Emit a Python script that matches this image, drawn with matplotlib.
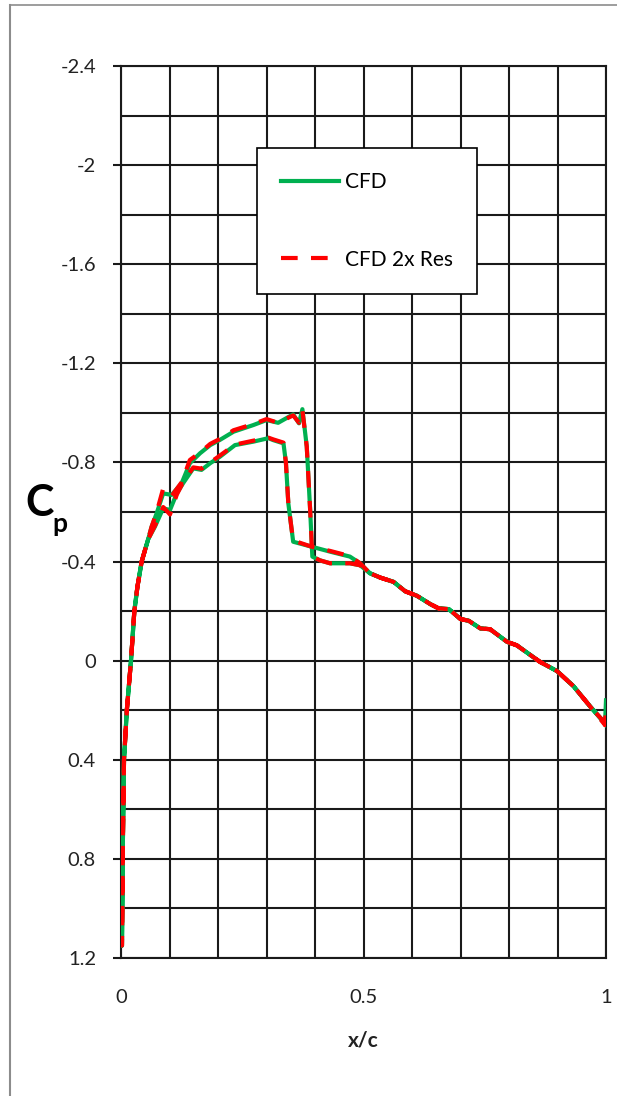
import numpy as np
import matplotlib.pyplot as plt
from matplotlib.lines import Line2D
from matplotlib.ticker import MultipleLocator, FixedLocator

plt.rcParams['font.family'] = ['Lato', 'DejaVu Sans']

# surface 1: trailing edge -> leading edge (shock near x/c = 0.39)
x_s1 = [1.0, 0.995, 0.967, 0.933, 0.899, 0.864, 0.816, 0.796, 0.761, 0.741, 0.717, 0.70,
        0.676, 0.655, 0.638, 0.61, 0.586, 0.562, 0.535, 0.513, 0.493, 0.472, 0.431, 0.41,
        0.3945, 0.39, 0.383, 0.374, 0.367, 0.355, 0.324, 0.30, 0.273, 0.232, 0.204, 0.184,
        0.163, 0.142, 0.125, 0.1045, 0.087, 0.0736, 0.063, 0.056, 0.0426, 0.034, 0.0275,
        0.0206, 0.012, 0.0062, 0.0048, 0.0034, 0.0027, 0.002]
cp_s1_cfd = [0.26, 0.245, 0.184, 0.103, 0.042, 0.005, -0.062, -0.076, -0.127, -0.13, -0.161, -0.168,
             -0.208, -0.211, -0.228, -0.262, -0.28, -0.318, -0.335, -0.353, -0.385, -0.393, -0.393, -0.405,
             -0.42, -0.608, -0.864, -1.015, -0.958, -0.994, -0.96, -0.971, -0.951, -0.924, -0.891, -0.87,
             -0.837, -0.797, -0.716, -0.669, -0.675, -0.595, -0.54, -0.49, -0.4, -0.3, -0.2,
             0.0, 0.2, 0.4, 0.6, 0.8, 1.0, 1.15]
cp_s1_2x = [0.265, 0.245, 0.184, 0.103, 0.042, 0.005, -0.062, -0.076, -0.127, -0.13, -0.161, -0.168,
            -0.208, -0.211, -0.228, -0.262, -0.28, -0.318, -0.335, -0.353, -0.385, -0.393, -0.393, -0.405,
            -0.42, -0.608, -0.864, -1.01, -0.96, -0.99, -0.96, -0.975, -0.955, -0.93, -0.895, -0.875,
            -0.84, -0.81, -0.72, -0.665, -0.695, -0.6, -0.54, -0.49, -0.4, -0.3, -0.2,
            0.0, 0.2, 0.4, 0.6, 0.8, 1.0, 1.15]

# surface 2: leading edge -> trailing edge (shock near x/c = 0.35)
x_s2 = [0.002, 0.0027, 0.0034, 0.0048, 0.0062, 0.012, 0.0206, 0.0275, 0.034, 0.0426, 0.056,
        0.070, 0.087, 0.101, 0.115, 0.128, 0.149, 0.166, 0.184, 0.204, 0.235, 0.273, 0.304,
        0.314, 0.335, 0.34, 0.345, 0.352, 0.355, 0.393, 0.431, 0.472, 0.493, 0.513, 0.535,
        0.562, 0.586, 0.61, 0.638, 0.655, 0.676, 0.70, 0.717, 0.741, 0.761, 0.796, 0.816,
        0.864, 0.899, 0.933, 0.967, 0.998, 1.0]
cp_s2_cfd = [1.15, 1.0, 0.8, 0.6, 0.4, 0.2, 0.0, -0.2, -0.3, -0.4, -0.49,
             -0.541, -0.615, -0.608, -0.675, -0.716, -0.776, -0.77, -0.797, -0.823, -0.87, -0.884, -0.898,
             -0.89, -0.877, -0.8, -0.635, -0.527, -0.48, -0.46, -0.44, -0.42, -0.393, -0.353, -0.335,
             -0.318, -0.28, -0.262, -0.228, -0.211, -0.208, -0.168, -0.161, -0.13, -0.127, -0.076, -0.062,
             0.005, 0.042, 0.103, 0.184, 0.255, 0.16]
cp_s2_2x = [1.15, 1.0, 0.8, 0.6, 0.4, 0.2, 0.0, -0.2, -0.3, -0.4, -0.49,
            -0.545, -0.62, -0.59, -0.67, -0.72, -0.78, -0.775, -0.80, -0.828, -0.872, -0.888, -0.90,
            -0.893, -0.88, -0.8, -0.635, -0.527, -0.485, -0.46, -0.443, -0.422, -0.393, -0.353, -0.335,
            -0.318, -0.28, -0.262, -0.228, -0.211, -0.208, -0.168, -0.161, -0.13, -0.127, -0.076, -0.062,
            0.005, 0.042, 0.103, 0.184, 0.26, 0.18]

y_major = [-2.4, -2.0, -1.6, -1.2, -0.8, -0.4, 0.0, 0.4, 0.8, 1.2]
y_labels = ['-2.4', '-2', '-1.6', '-1.2', '-0.8', '-0.4', '0', '0.4', '0.8', '1.2']

green = '#00b050'
red = '#ff0000'
ink = '#1a1a1a'

fig = plt.figure(figsize=(6.17, 10.96), dpi=100)
ax = fig.add_axes([121/617, 1 - 958/1096, 485/617, 892/1096])

x_cfd = x_s1 + x_s2
x_2x = x_s1 + x_s2
ax.plot(x_cfd, cp_s1_cfd + cp_s2_cfd, color=green, lw=3.0, label='CFD', zorder=3)
ax.plot(x_2x, cp_s1_2x + cp_s2_2x, color=red, lw=3.0, ls=(0, (4.0, 3.2)),
        label='CFD 2x Res', zorder=4)

ax.set_xlim(0, 1)
ax.set_ylim(1.2, -2.4)

ax.xaxis.set_major_locator(FixedLocator([0, 0.5, 1]))
ax.xaxis.set_minor_locator(MultipleLocator(0.1))
ax.set_xticklabels(['0', '0.5', '1'])
ax.yaxis.set_major_locator(FixedLocator(y_major))
ax.yaxis.set_minor_locator(MultipleLocator(0.2))
ax.set_yticklabels(y_labels)

ax.grid(True, which='both', color=ink, lw=1.5)
ax.set_axisbelow(True)
for s in ax.spines.values():
    s.set_color(ink)
    s.set_linewidth(1.5)

ax.tick_params(axis='y', which='major', length=6, width=1.5, color=ink, pad=12,
               labelsize=14.5, labelcolor='#222222')
ax.tick_params(axis='y', which='minor', length=0)
ax.tick_params(axis='x', which='both', length=0, pad=22, labelsize=14.5, labelcolor='#222222')

ax.set_xlabel('x/c', fontsize=15, fontweight='bold', labelpad=18, color='#222222')
fig.text(25/617, 1 - 503/1096, 'C', fontsize=31, fontweight='bold', va='center', ha='left')
fig.text(52/617, 1 - 524/1096, 'p', fontsize=19, fontweight='bold', va='center', ha='left')

leg = ax.legend(loc='upper left', bbox_to_anchor=(0.28, 0.9077), borderaxespad=0,
                frameon=True, fancybox=False, edgecolor='black', framealpha=1,
                fontsize=15, handlelength=2.8, handletextpad=0.3, labelspacing=2.75,
                borderpad=1.15)
leg.get_frame().set_linewidth(1.2)

# thin grey frame along the top and left edge
fig.add_artist(Line2D([9.5/617, 9.5/617], [0, 1 - 5/1096], transform=fig.transFigure,
                      color='#8c8c8c', lw=1.5))
fig.add_artist(Line2D([9.5/617, 1], [1 - 5/1096, 1 - 5/1096], transform=fig.transFigure,
                      color='#8c8c8c', lw=1.2))

fig.savefig('out.png', dpi=100)
